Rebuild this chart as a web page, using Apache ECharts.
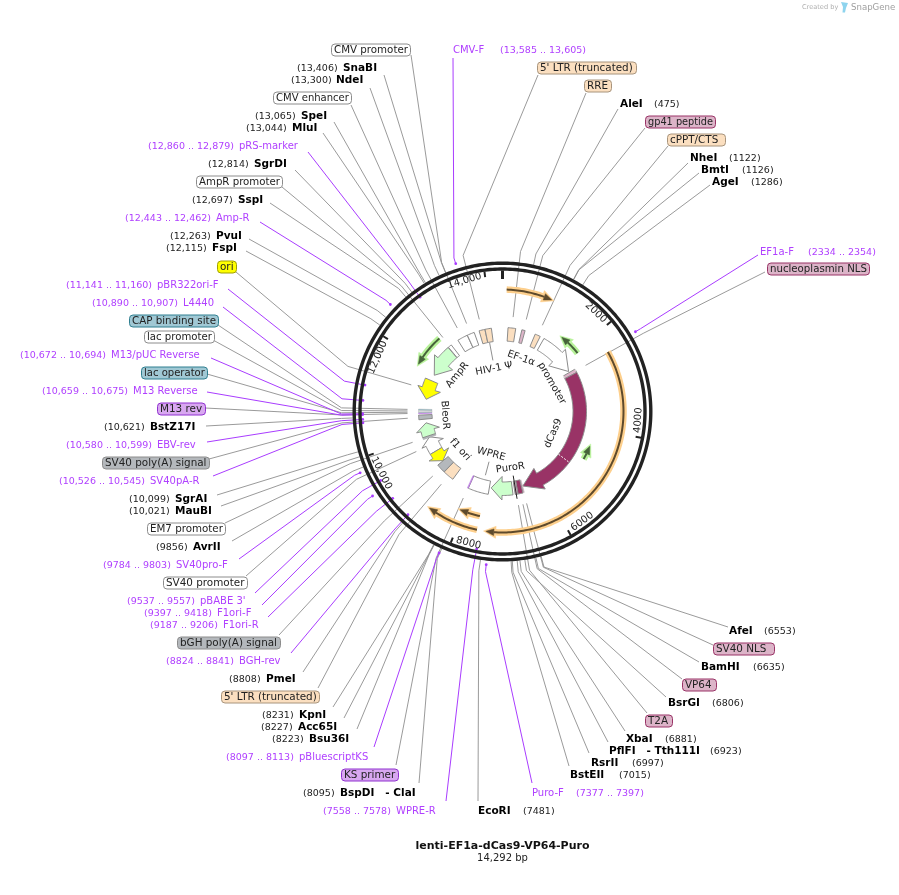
<!DOCTYPE html>
<html>
<head>
<meta charset="utf-8">
<title>lenti-EF1a-dCas9-VP64-Puro</title>
<style>
html, body { margin: 0; padding: 0; background: #fff; }
#main { width: 899px; height: 895px; }
</style>
<script src="https://cdn.jsdelivr.net/npm/echarts@6/dist/echarts.min.js"></script>
</head>
<body>
<div id="main"></div>
<script>
// ---- data (bp) ----
var plasmidName = 'lenti-EF1a-dCas9-VP64-Puro';
var plasmidSize = 14292;

var tickValues = [0, 2000, 4000, 6000, 8000, 10000, 12000, 14000];
var tickLabels = ['', '2000', '4000', '6000', '8000', '10,000', '12,000', '14,000'];

var enzymeNames = ['SnaBI', 'NdeI', 'SpeI', 'MluI', 'SgrDI', 'SspI', 'PvuI', 'FspI', 'BstZ17I', 'SgrAI', 'MauBI', 'AvrII', 'PmeI', 'KpnI', 'Acc65I', 'Bsu36I', 'BspDI   - ClaI', 'EcoRI', 'BstEII', 'RsrII', 'PflFI   - Tth111I', 'XbaI', 'BsrGI', 'BamHI', 'AfeI', 'AleI', 'NheI', 'BmtI', 'AgeI'];
var enzymeSites = [13406, 13300, 13065, 13044, 12814, 12697, 12263, 12115, 10621, 10099, 10021, 9856, 8808, 8231, 8227, 8223, 8095, 7481, 7015, 6997, 6923, 6881, 6806, 6635, 6553, 475, 1122, 1126, 1286];

var primerNames = ['CMV-F', 'pRS-marker', 'Amp-R', 'pBR322ori-F', 'L4440', 'M13/pUC Reverse', 'M13 Reverse', 'EBV-rev', 'SV40pA-R', 'SV40pro-F', "pBABE 3'", 'F1ori-F', 'F1ori-R', 'BGH-rev', 'pBluescriptKS', 'WPRE-R', 'Puro-F', 'EF1a-F'];
var primerStarts = [13585, 12860, 12443, 11141, 10890, 10672, 10659, 10580, 10526, 9784, 9537, 9397, 9187, 8824, 8097, 7558, 7377, 2334];
var primerEnds = [13605, 12879, 12462, 11160, 10907, 10694, 10675, 10599, 10545, 9803, 9557, 9418, 9206, 8841, 8113, 7578, 7397, 2354];

var featureNames = ['RRE', 'gp41 peptide', 'cPPT/CTS', 'EF-1α promoter', 'nucleoplasmin NLS', 'dCas9', 'SV40 NLS', 'VP64', 'T2A', 'PuroR', 'WPRE', 'KS primer', "5' LTR (truncated)", 'bGH poly(A) signal', 'SV40 promoter', 'f1 ori', 'EM7 promoter', 'BleoR', 'SV40 poly(A) signal', 'M13 rev', 'lac operator', 'lac promoter', 'CAP binding site', 'ori', 'AmpR', 'AmpR promoter', 'CMV enhancer', 'CMV promoter', "5' LTR (truncated)", 'HIV-1 Ψ'];
var featureStarts = [150, 530, 910, 1175, 2370, 2470, 6545, 6585, 6725, 6860, 7535, 8100, 8585, 8895, 9500, 9150, 9940, 9996, 10495, 10660, 10690, 10715, 10755, 11080, 11830, 12700, 13020, 13310, 13650, 13815];
var featureEnds = [360, 620, 1060, 2335, 2470, 6540, 6580, 6720, 6800, 7480, 8100, 8127, 8890, 9145, 9960, 9500, 9996, 10385, 10620, 10680, 10712, 10750, 10785, 11650, 12690, 12800, 13305, 13510, 13810, 13990];
// 1 clockwise, -1 counter-clockwise, 0 no arrow
var featureDirs = [0, 0, 0, 1, 0, 1, 0, 0, 0, 1, 0, 0, 0, 0, 1, -1, 0, 1, 0, 0, 0, 0, 0, -1, -1, 0, 0, 0, 0, 0];

var orfStarts = [78, 2402, 7630, 7630, 4780, 2070, 12672];
var orfEnds = [945, 7460, 8620, 8072, 4434, 1532, 11885];

var innerNames = ['EF-1α', 'promoter', 'dCas9', 'PuroR', 'WPRE', 'f1 ori', 'BleoR', 'AmpR', 'HIV-1 Ψ'];
var innerSites = [762, 2390, 4494, 6829, 7742, 9052, 10580, 12268, 13847];

// ---- layout and styles ----
var FONT = '"DejaVu Sans"';
var R_IN = 70.5, R_OUT = 84, R_FLARE_IN = 65, R_FLARE_OUT = 88.5, R_ELBOW = 161, R_FEATURE_END = 95;
var LEADER_GRAY = '#8f8f8f', PRIMER_PURPLE = '#a93cff', FEATURE_EDGE = '#8c8c8c';

// [fill, label border]
var PAL = {
    peach: ['#fbdfc0', '#a8947c'],
    pink: ['#dcb4c8', '#993366'],
    white: ['#ffffff', '#8c8c8c'],
    gray: ['#b4b8bc', '#8c8c8c'],
    teal: ['#a0c8d4', '#2f7f90'],
    yellow: ['#ffff00', '#a0a000'],
    purple: ['#d8a8f0', '#9030d0'],
    dark: ['#993366', '#7a2850'],
    green: ['#ccffcc', '#8c8c8c']
};
var featurePal = ['peach', 'pink', 'peach', 'white', 'pink', 'dark', 'pink', 'dark', 'pink', 'green', 'white', 'purple', 'peach', 'gray', 'white', 'yellow', 'gray', 'green', 'gray', 'purple', 'teal', 'white', 'teal', 'yellow', 'green', 'white', 'white', 'white', 'peach', 'peach'];
// label box colour where it differs from the mark
var boxPal = { 'EM7 promoter': 'white', 'VP64': 'pink' };
// bp where the arrow head starts
var featureHeads = { 'EF-1α promoter': 1800, 'dCas9': 6000, 'PuroR': 7160, 'SV40 promoter': 9745, 'f1 ori': 9370, 'BleoR': 10164, 'ori': 11400, 'AmpR': 12300 };
// label box [left, right, y, leaderX, leaderY] per feature, null for the ones labelled inside the map
var featureBoxes = [
    [584, 611, 86, 586, 93], [645, 715, 122, 645, 128], [667, 725, 140, 668, 146], null,
    [767, 869, 269, 765, 272], null, [713, 774, 649, 713, 645], [682, 716, 685, 682, 679], [645, 672, 721, 647, 713],
    null, null, [341, 398, 775, 396, 765], [221, 319, 697, 318, 688], [177, 280, 643, 279, 635], [163, 247, 583, 246, 576],
    null, [147, 225, 529, 225, 523], null, [102, 209, 463, 209, 459], [157, 205, 409, 205, 408], [141, 207, 373, 207, 374],
    [144, 214, 337, 213, 340], [129, 218, 321, 218, 325], [217, 236, 267, 236, 272], null, [196, 282, 182, 282, 187],
    [273, 351, 98, 351, 105], [331, 410, 50, 411, 55], [537, 636, 68, 538, 75], null
];
// [nameX, y, coordX, leaderX, leaderY]
var enzymeLayout = [
    [343, 68, 297, 384, 75], [336, 80, 291, 370, 88], [301, 116, 255, 334, 122], [292, 128, 246, 323, 133], [254, 164, 208, 295, 170],
    [238, 200, 192, 270, 203], [216, 236, 170, 249, 239], [212, 248, 166, 246, 251], [150, 427, 104, 206, 426], [175, 499, 129, 217, 495],
    [175, 511, 129, 221, 506], [193, 547, 156, 232, 541], [266, 679, 229, 303, 672], [299, 715, 262, 333, 707], [298, 727, 261, 344, 718],
    [309, 739, 272, 357, 729], [340, 793, 303, 419, 783], [478, 811, 523, 478, 801], [570, 775, 619, 569, 766], [591, 763, 632, 589, 753],
    [609, 751, 710, 608, 742], [626, 739, 665, 625, 731], [668, 703, 712, 666, 697], [701, 667, 753, 699, 662], [729, 631, 764, 728, 627],
    [620, 104, 654, 618, 109], [690, 158, 729, 688, 163], [701, 170, 742, 699, 173], [712, 182, 751, 710, 185]
];
// [nameX, y, rangeX, leaderX, leaderY, rEnd]
var primerLayout = [
    [453, 50, 500, 453, 58, 155], [239, 146, 148, 308, 152, 141], [216, 218, 125, 260, 222, 155], [157, 285, 66, 228, 289, 140],
    [183, 303, 92, 223, 307, 140], [111, 355, 20, 211, 358, 140], [133, 391, 42, 207, 392, 140], [157, 445, 66, 207, 442, 140],
    [150, 481, 59, 213, 476, 140], [176, 565, 103, 239, 559, 155], [200, 601, 127, 255, 593, 140], [217, 613, 144, 262, 605, 155],
    [223, 625, 150, 268, 617, 140], [239, 661, 166, 291, 653, 140], [299, 757, 226, 374, 747, 155], [396, 811, 323, 446, 801, 140],
    [532, 793, 576, 532, 783, 154], [760, 252, 808, 758, 255, 155]
];
var innerRadii = [56.3, 56.7, 55.3, 57, 44, 57, 57.6, 58, 43.5];

var ORF_RADII = [122, 121, 121, 107, 94, 95, 96.5];
var ORF_COLORS = [0, 0, 0, 0, 1, 1, 1];
var ORF_STYLE = [['#fdcf8c', '#5e4a2c'], ['#b8f29a', '#46633a']];

// ---- helpers ----
var measureCtx = document.createElement('canvas').getContext('2d');
function fitSize(str, width) {
    measureCtx.font = '10px ' + FONT;
    return Math.min(10.4, 10 * width / measureCtx.measureText(str).width);
}
function pt(api, r, b) {
    var c = api.coord([r, b]);
    return [c[0], c[1]];
}
function arc(api, r, b0, b1) {
    var n = Math.max(2, Math.ceil(Math.abs(b1 - b0) / 40)), out = [];
    for (var i = 0; i <= n; i++) out.push(pt(api, r, b0 + (b1 - b0) * i / n));
    return out;
}
function line(points, stroke, width, extra) {
    var style = { stroke: stroke, lineWidth: width, fill: null };
    for (var k in extra) style[k] = extra[k];
    return { type: 'polyline', silent: true, shape: { points: points }, style: style };
}
function poly(points, fill, stroke, width) {
    return { type: 'polygon', silent: true, shape: { points: points }, style: { fill: fill, stroke: stroke, lineWidth: width, lineJoin: 'miter' } };
}
function text(str, x, y, size, color, weight, align, rotation) {
    return {
        type: 'text', silent: true, x: x, y: y, rotation: rotation || 0,
        style: { text: str, fill: color, font: (weight || 'normal') + ' ' + size + 'px ' + FONT, align: align || 'left', verticalAlign: 'middle' }
    };
}
function bpAngle(b) {
    return b / plasmidSize * 360;
}
// text follows the circle and stays readable on the lower half
function tangent(b) {
    var a = bpAngle(b);
    return (a > 90 && a < 270 ? 180 - a : (a >= 270 ? 360 - a : -a)) * Math.PI / 180;
}
function siteLabel(v) {
    return '(' + (v >= 10000 ? String(v).replace(/(\d{3})$/, ',$1') : v) + ')';
}
function rangeLabel(a, b) {
    return siteLabel(a).slice(0, -1) + ' .. ' + siteLabel(b).slice(1);
}
function rowsOf(a, b) {
    return a.map(function (v, i) { return [v, b ? b[i] : v]; });
}

// ---- render functions ----
function renderRing(params, api) {
    var kids = [];
    kids.push(line(arc(api, 148.3, 0, plasmidSize), '#222222', 3.4));
    kids.push(line(arc(api, 142.5, 0, plasmidSize), '#222222', 3.4));
    tickValues.forEach(function (v, i) {
        var bold = v === 0;
        kids.push(line([pt(api, 141, v), pt(api, bold ? 132.5 : 135.5, v)], '#222222', bold ? 3 : 2));
        if (tickLabels[i]) {
            // labels sit just before their tick
            var b = v - (v >= 10000 ? 350 : 280);
            var p = pt(api, 136, b);
            kids.push(text(tickLabels[i], p[0], p[1], 10, '#222', 'normal', 'center', tangent(b)));
        }
    });
    return { type: 'group', children: kids };
}

function renderFeature(params, api) {
    var i = params.dataIndex, s = api.value(0), e = api.value(1), dir = featureDirs[i];
    var pal = PAL[featurePal[i]];
    var name = featureNames[i], kids = [], pts;
    var edge = name === 'KS primer' || name === 'M13 rev' ? pal[1] : FEATURE_EDGE;
    // very narrow bands would be all outline otherwise
    var edgeWidth = e - s < 60 ? 0.3 : 1;
    if (!dir) {
        pts = arc(api, R_OUT, s, e).concat(arc(api, R_IN, e, s));
        kids.push(poly(pts, pal[0], edge, edgeWidth));
    } else {
        var tail = dir > 0 ? s : e, tip = dir > 0 ? e : s, head = featureHeads[name];
        pts = arc(api, R_OUT, tail, head);
        pts.push(pt(api, R_FLARE_OUT, head), pt(api, (R_IN + R_OUT) / 2, tip), pt(api, R_FLARE_IN, head));
        pts = pts.concat(arc(api, R_IN, head, tail));
        kids.push(poly(pts, pal[0], edge, edgeWidth));
    }
    if (name === 'dCas9') {
        kids.push(line([pt(api, R_IN, 5055), pt(api, R_OUT, 5055)], '#ffffff', 1, { lineDash: [2, 1.5] }));
    }
    if (name === 'nucleoplasmin NLS' || name === 'SV40 NLS') {
        kids.push(line(arc(api, R_OUT, s, e), '#ffffff', 1, { lineDash: [2, 1.5] }));
        kids.push(line(arc(api, R_IN, s, e), '#ffffff', 1, { lineDash: [2, 1.5] }));
    }
    if (name === 'T2A') {
        kids.push(line([pt(api, R_FLARE_IN, e - 30), pt(api, R_FLARE_OUT, e - 30)], '#222222', 1));
    }
    if (name === 'WPRE' || name === 'HIV-1 Ψ') {
        var b = name === 'WPRE' ? 7742 : 13990 - 120;
        kids.push(line([pt(api, name === 'WPRE' ? 66 : 70, b), pt(api, 52, b)], LEADER_GRAY, 1));
    }
    return { type: 'group', children: kids };
}

function renderOrf(params, api) {
    var i = params.dataIndex, s = api.value(0), e = api.value(1);
    var r = ORF_RADII[i], st = ORF_STYLE[ORF_COLORS[i]];
    var sign = e > s ? 1 : -1;
    var headLen = 8 / r / (2 * Math.PI) * plasmidSize * sign;
    var haloLen = 10 / r / (2 * Math.PI) * plasmidSize * sign;
    var base = e - headLen;
    return {
        type: 'group',
        children: [
            line(arc(api, r, s, e - haloLen), st[0], 6.5),
            poly([pt(api, r + 6, e - haloLen), pt(api, r, e + headLen * 0.3), pt(api, r - 6, e - haloLen)], st[0], st[0], 0.5),
            line(arc(api, r, s, base), st[1], 2),
            poly([pt(api, r + 3.3, base), pt(api, r, e), pt(api, r - 3.3, base)], st[1], st[1], 0.5)
        ]
    };
}

function renderEnzymeLeader(params, api) {
    var i = params.dataIndex, b = api.value(0), L = enzymeLayout[i];
    return line([[L[3], L[4]], pt(api, R_ELBOW, b), pt(api, 150, b)], LEADER_GRAY, 0.9);
}
function renderFeatureLeader(params, api) {
    var i = params.dataIndex, L = featureBoxes[i];
    if (!L) return null;
    var b = (api.value(0) + api.value(1)) / 2;
    return line([[L[3], L[4]], pt(api, R_ELBOW, b), pt(api, R_FEATURE_END, b)], LEADER_GRAY, 0.9);
}
function renderPrimerLeader(params, api) {
    var i = params.dataIndex, b = (api.value(0) + api.value(1)) / 2, L = primerLayout[i];
    var p = pt(api, L[5], b);
    return {
        type: 'group',
        children: [
            line([[L[3], L[4]], pt(api, R_ELBOW, b), p], PRIMER_PURPLE, 1),
            { type: 'circle', silent: true, shape: { cx: p[0], cy: p[1], r: 1.4 }, style: { fill: PRIMER_PURPLE } }
        ]
    };
}

function renderEnzymeLabel(params, api) {
    var i = params.dataIndex, L = enzymeLayout[i];
    return {
        type: 'group',
        children: [
            text(enzymeNames[i], L[0], L[1], 10.5, '#000', 'bold'),
            text(siteLabel(api.value(0)), L[2], L[1] + 1, 9.5, '#222')
        ]
    };
}
function renderPrimerLabel(params, api) {
    var i = params.dataIndex, L = primerLayout[i];
    return {
        type: 'group',
        children: [
            text(primerNames[i], L[0], L[1], 10, '#b040ff'),
            text(rangeLabel(api.value(0), api.value(1)), L[2], L[1] + 1, 9.5, '#b040ff')
        ]
    };
}
function renderFeatureLabel(params, api) {
    var i = params.dataIndex, L = featureBoxes[i];
    if (!L) return null;
    var pal = PAL[boxPal[featureNames[i]] || featurePal[i]];
    return {
        type: 'group',
        children: [
            { type: 'rect', silent: true, shape: { x: L[0] + 0.5, y: L[2] - 6, width: L[1] - L[0], height: 12, r: 3.5 }, style: { fill: pal[0], stroke: pal[1], lineWidth: 1 } },
            text(featureNames[i], L[0] + 3, L[2], fitSize(featureNames[i], L[1] - L[0] - 5), '#222')
        ]
    };
}
function renderInnerLabel(params, api) {
    var i = params.dataIndex, b = api.value(0);
    var p = pt(api, innerRadii[i], b);
    return text(innerNames[i], p[0], p[1], 10, '#222', 'normal', 'center', tangent(b));
}

function custom(data, fn, z) {
    return { type: 'custom', coordinateSystem: 'polar', silent: true, z: z, data: data, renderItem: fn, animation: false, clip: false };
}

var chart = echarts.init(document.getElementById('main'));
chart.setOption({
    animation: false,
    backgroundColor: '#fff',
    tooltip: { show: false },
    polar: { center: [502.5, 411.5], radius: 150 },
    angleAxis: { type: 'value', min: 0, max: plasmidSize, startAngle: 90, show: false },
    radiusAxis: { type: 'value', min: 0, max: 150, show: false },
    graphic: [
        { type: 'text', x: 802, y: 7.5, silent: true, style: { text: 'Created by', font: '6.6px ' + FONT, fill: '#b0b0b0', verticalAlign: 'middle' } },
        { type: 'polygon', silent: true, shape: { points: [[841, 2], [848, 3], [846, 8], [845, 12.5], [842.5, 12.5], [843, 7]] }, style: { fill: '#8ed4ee' } },
        { type: 'text', x: 851, y: 7.5, silent: true, style: { text: 'SnapGene', font: '8.6px ' + FONT, fill: '#a0a0a0', verticalAlign: 'middle' } },
        { type: 'text', x: 502.5, y: 846, silent: true, style: { text: plasmidName, font: 'bold 11px ' + FONT, fill: '#111', align: 'center', verticalAlign: 'middle' } },
        { type: 'text', x: 502.5, y: 858, silent: true, style: { text: '14,292 bp', font: '10px ' + FONT, fill: '#222', align: 'center', verticalAlign: 'middle' } }
    ],
    series: [
        custom(rowsOf(enzymeSites), renderEnzymeLeader, 1),
        custom(rowsOf(featureStarts, featureEnds), renderFeatureLeader, 1),
        custom(rowsOf(primerStarts, primerEnds), renderPrimerLeader, 2),
        custom([[0, 0]], renderRing, 3),
        custom(rowsOf(featureStarts, featureEnds), renderFeature, 4),
        custom(rowsOf(orfStarts, orfEnds), renderOrf, 4),
        custom(rowsOf(innerSites), renderInnerLabel, 5),
        custom(rowsOf(enzymeSites), renderEnzymeLabel, 5),
        custom(rowsOf(primerStarts, primerEnds), renderPrimerLabel, 5),
        custom(rowsOf(featureStarts, featureEnds), renderFeatureLabel, 5)
    ]
});
</script>
</body>
</html>
